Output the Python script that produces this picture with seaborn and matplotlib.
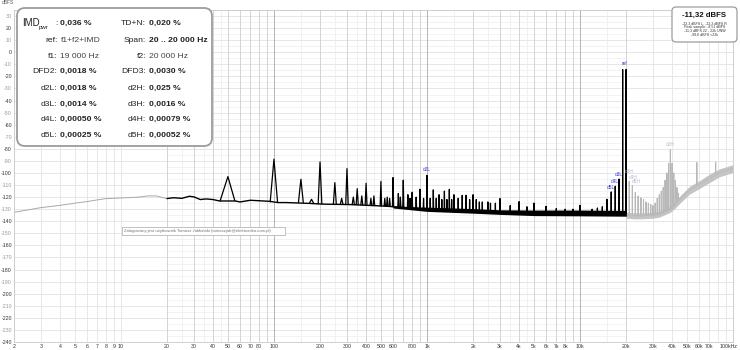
import numpy as np
import pandas as pd
import matplotlib
matplotlib.use("Agg")
import matplotlib.pyplot as plt
import seaborn as sns
from matplotlib.patches import FancyBboxPatch
from matplotlib.transforms import IdentityTransform, ScaledTranslation

# ---------------- data ----------------
# low-frequency (below 20 Hz) grey trace
lf_hz = [2, 3, 4, 5, 6, 7, 8, 10, 13, 15, 17, 20]
lf_db = [-132.6, -128.7, -126.8, -125.0, -123.7, -122.3, -121.2, -120.7, -120.0, -119.0, -119.0, -121.2]

# black noise floor 20 Hz .. 20 kHz
floor_hz = [20, 22, 25, 28, 30, 33, 36, 40, 44, 56, 60, 70, 80, 94, 106, 120, 140, 170, 210, 320,
            520, 720, 1020, 2030, 3050, 5100, 10200, 19500, 20100]
floor_db = [-121.2, -120.5, -121, -119.3, -119.8, -122, -121.5, -122, -123.2, -123.2, -124, -122.6, -123,
            -123.5, -124.5, -124.5, -124.8, -125.2, -125.8, -126.2, -127.4, -128.6, -130, -131.5, -132.5,
            -133, -133, -133.5, -133.5]
# spread of the noise floor (black band)
band_hz = [600, 1000, 2000, 3000, 5000, 10000, 20100]
band_lo = [-129, -131.8, -133.3, -134.3, -135.3, -135.5, -135.8]
band_hi = [-127.5, -128.3, -129.5, -130.5, -130.7, -130.7, -131]

# black spectral lines
peak_hz = [50, 100, 150, 176, 200, 250, 277, 300, 330, 350, 375, 400, 430, 450, 500, 530, 550, 570, 600, 650,
           670, 700, 750, 775, 800, 850, 900, 950, 1000, 1050, 1100, 1150, 1200, 1250, 1300, 1350, 1400, 1450,
           1500, 1600, 1700, 1800, 1900, 2000, 2100, 2200, 2300, 2500, 2600, 2800, 3000, 3500, 4000, 4500,
           5000, 6000, 7000, 8000, 9000, 10000, 12000, 13000, 14000, 15000, 16000, 17000, 18000, 19000, 20000]
peak_db = [-103, -88.6, -105.2, -121.8, -90.9, -108, -121, -96.4, -120, -113, -119, -108.5, -121, -119, -107,
           -121, -120, -121, -103.8, -117, -120, -106, -118, -121, -116, -120, -113.5, -121, -102, -121, -114,
           -121, -118, -122, -115, -122, -113.5, -122, -118, -121, -118.5, -118.5, -122, -118, -122, -124, -124,
           -124, -125, -125, -121.2, -127, -123.7, -128, -125, -127.6, -129.5, -130, -130, -126.8, -130, -129,
           -128, -121.8, -115.7, -111, -105, -14.3, -14.3]
peak_base_db = [-123, -124, -124.5, -125, -125.5, -126, -126, -126, -126.2, -126.3, -126.5, -126.5, -126.8, -127,
                -127.3, -127.5, -127.5, -127.7, -128, -128.2, -128.3, -128.5, -128.8, -129, -129, -129.3, -129.5,
                -129.8, -130, -130, -130.2, -130.3, -130.5, -130.5, -130.7, -130.8, -131, -131, -131, -131.2,
                -131.3, -131.4, -131.5, -131.5, -131.6, -131.7, -131.8, -132, -132, -132.2, -132.5, -132.7,
                -132.8, -133, -133, -133, -133, -133, -133, -133, -133, -133.2, -133.2, -133.3, -133.3, -133.4,
                -133.4, -133.5, -133.5]

# grey part above 20 kHz
hf_floor_hz = [20100, 22500, 25000, 30000, 33000, 36000, 39000, 42000, 45000, 52000, 61000, 71000, 82000, 95000, 100000]
hf_floor_db = [-135, -135.5, -135.5, -135, -134, -132, -130, -126, -121.8, -114, -109, -103.8, -99.7, -97, -96]
hf_lo = [-137.5, -138, -138, -137.5, -136.5, -134.5, -132.5, -129, -125, -117.5, -112.5, -107.5, -103, -100.5, -99.5]
hf_hi = [-132.5, -133, -133, -132.5, -131.5, -129.5, -127.5, -123.5, -119, -111, -106, -100.5, -96.5, -94, -93]
hf_peak_hz = [21000, 22000, 23000, 24000, 25000, 26000, 27000, 28000, 29000, 30000, 31000, 32000, 33000, 34000,
              35000, 36000, 37000, 38000, 39000, 40000, 41000, 42000, 43000, 44000, 58000, 77000]
hf_peak_db = [-107, -110.5, -116, -119, -120.5, -122, -124, -125, -126, -127, -125, -121, -118, -115, -112, -106,
              -100, -92, -80.5, -92, -100, -106, -112, -117, -91.4, -91]
hf_peak_base = [-135, -135, -135.5, -135.5, -135.5, -135.5, -135.3, -135.2, -135.1, -135, -134.7, -134.3, -134,
                -133.5, -133, -132, -131.3, -130.7, -130, -129.3, -128, -126, -124, -122.5, -110, -100]

# peak annotations
mark_labels = ["d2L", "d5L", "d4L", "d3L", "ref"]
mark_hz = [1000, 16000, 17000, 18000, 19500]
mark_db = [-99.5, -114.5, -109.5, -103, -11.5]
hmark_labels = ["d3H", "d4H", "d5H", "d2H"]
hmark_hz = [21000, 22200, 23300, 39000]
hmark_db = [-100.5, -106, -109.5, -78.5]

# info panel
rows_left_lab = ["ref:", "f1:", "DFD2:", "d2L:", "d3L:", "d4L:", "d5L:"]
rows_left_val = ["f1+f2+IMD", "19 000 Hz", "0,0018 %", "0,0018 %", "0,0014 %", "0,00050 %", "0,00025 %"]
rows_right_lab = ["TD+N:", "Span:", "f2:", "DFD3:", "d2H:", "d3H:", "d4H:", "d5H:"]
rows_right_val = ["0,020 %", "20 .. 20 000 Hz", "20 000 Hz", "0,0030 %", "0,025 %", "0,0016 %", "0,00079 %", "0,00052 %"]
imd_value = "0,036 %"

level_main = "-11,32 dBFS"
level_lines = ["-22,3 dBFS L, -22,3 dBFS R", "Peak sample: -8,51 dBFS", "-11,3 dBFS 22 - 22k UNW", "-99,6 dBFS <22k"]
watermark = "Zalogowany jest użytkownik Tomasz Jabłoński (tomaszjab@elektronika.com.pl)"

xtick_vals = [2, 3, 4, 5, 6, 7, 8, 9, 10, 20, 30, 40, 50, 60, 70, 80, 100, 200, 300, 400, 500, 600, 800,
              1000, 2000, 3000, 4000, 5000, 6000, 7000, 8000, 10000, 20000, 30000, 40000, 50000, 60000, 70000, 100000]
xtick_labels = ["2", "3", "4", "5", "6", "7", "8", "9", "10", "20", "30", "40", "50", "60", "70", "80", "100",
                "200", "300", "400", "500", "600", "800", "1k", "2k", "3k", "4k", "5k", "6k", "7k", "8k", "10k",
                "20k", "30k", "40k", "50k", "60k", "70k", "100kHz"]

# ---------------- style ----------------
sns.set_theme(style="white")
plt.rcParams["font.family"] = ["Liberation Sans", "DejaVu Sans"]

W = 740
H = 350
fig = plt.figure(figsize=(W / 100, H / 100), dpi=100)
fig.patch.set_facecolor("white")
ax = fig.add_axes([14 / W, 8 / H, 719 / W, 332 / H])
ax.set_xscale("log")
ax.set_xlim(2, 100000)
ax.set_ylim(-240, 35)
ax.set_facecolor("white")

# grid
ax.hlines(np.arange(-240, 36, 10), 2, 100000, color="#e2e2e2", lw=0.6, zorder=0)
ax.hlines(np.arange(-235, 36, 10), 20, 20000, color="#eeeeee", lw=0.5, zorder=0)
for n in range(0, 6):
    for k in range(1, 10):
        v = k * 10 ** n
        if v < 2 or v > 100000:
            continue
        inband = 20 <= v <= 20000
        if k == 1 and inband:
            c = "#a9a9a9"
        elif inband:
            c = "#cdcdcd"
        else:
            c = "#e4e4e4"
        ax.axvline(v, color=c, lw=0.6, zorder=0)
    for k in (1.5, 2.5, 3.5, 4.5):
        v = k * 10 ** n
        if 20 <= v <= 20000:
            ax.axvline(v, color="#ececec", lw=0.5, zorder=0)

# low frequency grey trace
sns.lineplot(x=lf_hz, y=lf_db, color="#a8a8a8", lw=0.7, ax=ax, legend=False)

# grey HF part
ax.fill_between(hf_floor_hz, hf_lo, hf_hi, color="#c4c4c4", lw=0, zorder=2)
sns.lineplot(x=hf_floor_hz, y=hf_floor_db, color="#bdbdbd", lw=0.9, ax=ax, legend=False)
Wd = 5.5
hrows = []
for i, (f, t, b) in enumerate(zip(hf_peak_hz, hf_peak_db, hf_peak_base)):
    hrows += [(i, f - Wd, b), (i, f, t), (i, f + Wd, b)]
hdf = pd.DataFrame(hrows, columns=["pk", "hz", "db"])
sns.lineplot(data=hdf, x="hz", y="db", units="pk", estimator=None, sort=False, color="#b8b8b8", lw=0.8,
             ax=ax, legend=False)

# black spectrum
ax.fill_between(band_hz, band_lo, band_hi, color="black", lw=0, zorder=3)
sns.lineplot(x=floor_hz, y=floor_db, color="black", lw=1.0, ax=ax, legend=False)
rows = []
for i, (f, t, b) in enumerate(zip(peak_hz, peak_db, peak_base_db)):
    rows += [(i, f - Wd, b), (i, f, t), (i, f + Wd, b)]
pdf = pd.DataFrame(rows, columns=["pk", "hz", "db"])
sns.lineplot(data=pdf, x="hz", y="db", units="pk", estimator=None, sort=False, color="black", lw=0.9,
             ax=ax, legend=False)

for lab, f, d in zip(mark_labels, mark_hz, mark_db):
    ax.text(f, d, lab, color="#3b3bd6", fontsize=3.4, ha="center", va="bottom", zorder=6)
for lab, f, d in zip(hmark_labels, hmark_hz, hmark_db):
    ax.text(f, d, lab, color="#b9b9d8", fontsize=3.4, ha="center", va="bottom", zorder=6)

# axes cosmetics
ax.set_xticks(xtick_vals)
ax.set_xticklabels(xtick_labels)
ax.xaxis.set_minor_locator(matplotlib.ticker.NullLocator())
yt = list(range(-240, 31, 10))
ax.set_yticks(yt)
ax.set_yticklabels([str(v) for v in yt])
for v, t in zip(yt, ax.get_yticklabels()):
    t.set_color("#333333" if v % 20 == 0 else "#999999")
ax.tick_params(axis="both", length=0, labelsize=3.8, pad=1.5)
ax.tick_params(axis="x", colors="#333333")
last = ax.get_xticklabels()[-1]
last.set_horizontalalignment("right")
last.set_transform(last.get_transform() + ScaledTranslation(5 / 100, 0, fig.dpi_scale_trans))
ax.set_xlabel("")
ax.set_ylabel("")
for s in ax.spines.values():
    s.set_color("#c8c8c8")
    s.set_linewidth(0.6)

fig.text(2 / W, 1 - 3 / H, "dBFS", fontsize=3.5, color="#555555", va="center", ha="left")


# ---------------- panels ----------------
def fx(x):
    return x / W


def fy(y):
    return 1 - y / H


box = FancyBboxPatch((17, H - 146), 195, 138, boxstyle="round,pad=0,rounding_size=8",
                     transform=IdentityTransform(), facecolor="white", edgecolor="#9c9c9c", lw=1.3, zorder=10)
fig.add_artist(box)
row_y = [23.3, 40.7, 56, 71.7, 88.3, 104, 119.6, 135.5]
fs = 6.1
tc = "#222222"
fig.text(fx(22.5), fy(row_y[0]), "IMD", fontsize=7.0, color=tc, ha="left", va="center", zorder=11)
fig.text(fx(39.0), fy(row_y[0] + 4.5), "pwr", fontsize=4.4, color=tc, ha="left", va="center", zorder=11)
fig.text(fx(57.5), fy(row_y[0]), ":", fontsize=fs, color=tc, ha="right", va="center", zorder=11)
fig.text(fx(60.5), fy(row_y[0]), imd_value, fontsize=fs, color=tc, ha="left", va="center",
         fontweight="bold", zorder=11)
for i, (lab, val) in enumerate(zip(rows_left_lab, rows_left_val)):
    yy = row_y[i + 1]
    fig.text(fx(57.5), fy(yy), lab, fontsize=fs, color=tc, ha="right", va="center", zorder=11)
    bold = i >= 2
    fig.text(fx(60.5), fy(yy), val, fontsize=fs, color=tc if bold else "#444444", ha="left", va="center",
             fontweight="bold" if bold else "normal", zorder=11)
for i, (lab, val) in enumerate(zip(rows_right_lab, rows_right_val)):
    yy = row_y[i]
    fig.text(fx(146), fy(yy), lab, fontsize=fs, color=tc, ha="right", va="center", zorder=11)
    bold = i != 2
    fig.text(fx(149.3), fy(yy), val, fontsize=fs, color=tc if bold else "#444444", ha="left", va="center",
             fontweight="bold" if bold else "normal", zorder=11)

box2 = FancyBboxPatch((672, H - 42), 65, 35, boxstyle="round,pad=0,rounding_size=4",
                      transform=IdentityTransform(), facecolor="white", edgecolor="#9c9c9c", lw=0.9, zorder=10)
fig.add_artist(box2)
fig.text(fx(704.5), fy(15.5), level_main, fontsize=5.6, fontweight="bold", color="#111111", ha="center",
         va="center", zorder=11)
for i, line in enumerate(level_lines):
    fig.text(fx(704.5), fy(23.3 + i * 3.6), line, fontsize=2.6, color="#333333", ha="center", va="center", zorder=11)

box3 = FancyBboxPatch((122, H - 235), 163, 8, boxstyle="square,pad=0",
                      transform=IdentityTransform(), facecolor="white", edgecolor="#aaaaaa", lw=0.5, zorder=10)
fig.add_artist(box3)
fig.text(fx(124), fy(231), watermark, fontsize=3.1, color="#777777", ha="left", va="center", zorder=11)

fig.savefig("out.png", dpi=100)
